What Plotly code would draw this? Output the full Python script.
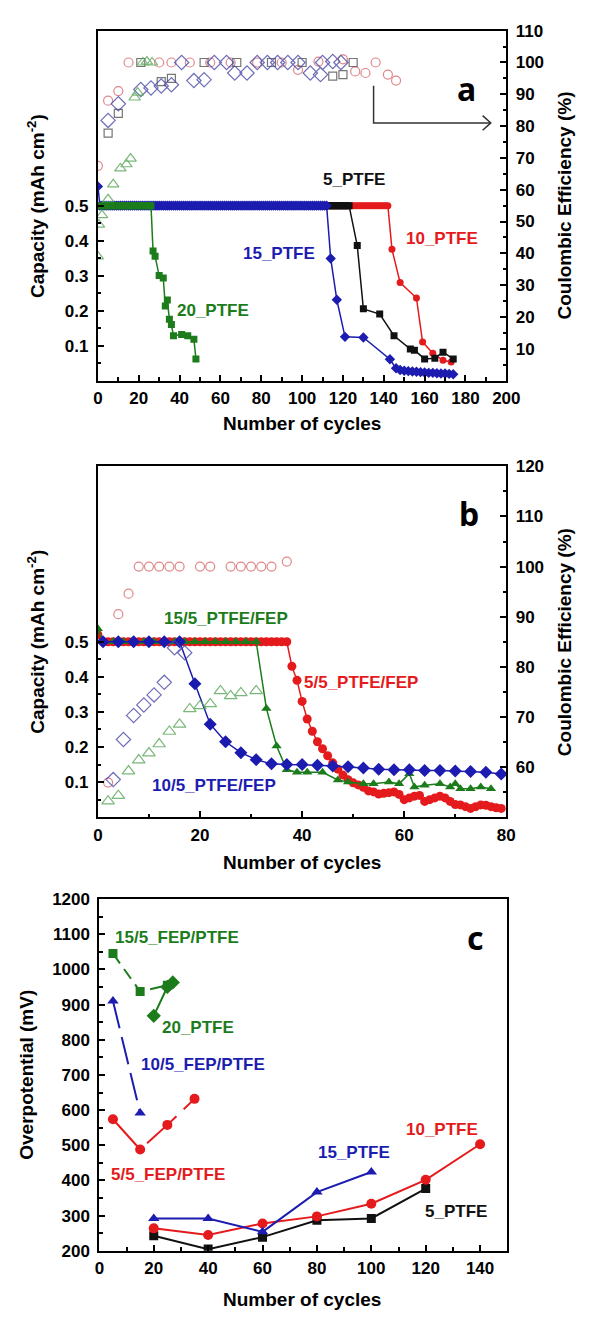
import plotly.graph_objects as go

FONT = "Liberation Sans, Arial, sans-serif"
RED, BLUE, GREEN, BLACK = "#e41a1c", "#1c1cb0", "#1c7c1c", "#111111"
RED_CE, BLUE_CE, GREEN_CE, GRAY_CE = "#d86a6c", "#4a4aa8", "#5aa65a", "#555555"

# ---------------- panel a : PTFE separators ----------------
# capacity (mAh cm-2)
a_20_cyc = list(range(0, 27)) + [27, 28, 30, 32, 33, 34, 35, 36, 37, 41, 44, 47, 48]
a_20_cap = [0.50] * 27 + [0.37, 0.355, 0.30, 0.293, 0.213, 0.23, 0.175, 0.16, 0.128,
                          0.132, 0.128, 0.118, 0.062]

a_15_cyc = list(range(0, 113)) + [114, 117, 121, 130, 143] + list(range(146, 176, 2))
a_15_cap = [0.555] + [0.50] * 112 + [0.349, 0.231, 0.125, 0.123, 0.061] + \
    [0.035, 0.03, 0.028, 0.027, 0.026, 0.025, 0.024, 0.023, 0.022, 0.022,
     0.021, 0.02, 0.02, 0.019, 0.018]

a_5_cyc = list(range(0, 124)) + [127, 130, 138, 145, 153, 155, 160, 165, 169, 174]
a_5_cap = [0.50] * 124 + [0.386, 0.205, 0.19, 0.128, 0.09, 0.087, 0.062, 0.064, 0.081, 0.062]

a_10_cyc = list(range(0, 143)) + [144, 148, 156, 159, 164, 169, 173]
a_10_cap = [0.50] * 143 + [0.375, 0.28, 0.236, 0.11, 0.078, 0.058, 0.053]

# coulombic efficiency (%)
a_10_ce_cyc = [0, 5, 10, 15, 30, 36, 45, 55, 65, 78, 90, 98, 108, 120, 126, 131, 136, 142, 146]
a_10_ce = [67.5, 88, 91, 100, 100, 100, 100, 100, 100, 100, 100, 97.7, 100.3, 101, 97.2,
           96.7, 100, 96.2, 94.3]
a_5_ce_cyc = [5, 10, 21, 31, 36, 52, 68, 85, 100, 115, 120, 125]
a_5_ce = [77.8, 84, 100, 94, 95, 100, 100, 100, 100, 95.7, 96.2, 100]
a_15_ce_cyc = [5, 10, 21, 26, 31, 36, 41, 47, 52, 57, 63, 67, 73, 78, 83, 88, 93, 98, 104,
               109, 110, 115, 119]
a_15_ce = [81.8, 87, 91.5, 92, 92.6, 93, 100, 94.3, 94.6, 100, 100, 96.7, 96.7, 100, 100,
           100, 100, 100, 96.7, 96.2, 100, 100.3, 100]
a_20_ce_cyc = [0, 0.5, 2, 5, 7.5, 11, 14, 16, 18, 19.5, 22, 24, 26.5]
a_20_ce = [39, 49, 52, 57, 61.7, 66.7, 68, 69.8, 89, 90.5, 100, 100.3, 100]

# ---------------- panel b : PTFE/FEP separators ----------------
b_55_cyc = list(range(0, 80))
b_55_cap = [0.52] + [0.50] * 37 + [
    0.43, 0.39, 0.33, 0.28, 0.245, 0.215, 0.195, 0.175, 0.155, 0.137, 0.12, 0.107,
    0.098, 0.092, 0.085, 0.075, 0.072, 0.066, 0.068, 0.07, 0.072, 0.065, 0.05, 0.055,
    0.06, 0.062, 0.045, 0.05, 0.055, 0.06, 0.055, 0.045, 0.036, 0.035, 0.03, 0.025,
    0.03, 0.035, 0.034, 0.03, 0.027, 0.025]
b_155_cyc = [0] + list(range(1, 32, 2)) + [33, 35, 37, 39, 41, 44, 47, 49, 52, 54, 57, 59,
                                           61, 62, 64, 67, 69, 70, 71, 73, 75, 77]
b_155_cap = [0.537] + [0.50] * 16 + [0.31, 0.203, 0.135, 0.128, 0.128, 0.128, 0.106, 0.10,
                                     0.095, 0.095, 0.10, 0.095, 0.124, 0.086, 0.091, 0.095,
                                     0.086, 0.095, 0.081, 0.081, 0.086, 0.081]
b_105_cyc = list(range(1, 80, 3))
b_105_cap = [0.50] * 6 + [0.38, 0.265, 0.215, 0.184, 0.164, 0.152, 0.15, 0.15, 0.148, 0.146,
                          0.144, 0.14, 0.137, 0.135, 0.135, 0.133, 0.133, 0.132, 0.13, 0.128,
                          0.123]

b_55_ce_cyc = [2, 4, 6, 8, 10, 12, 14, 16, 20, 22, 26, 28, 30, 32, 34, 37]
b_55_ce = [56.9, 90.5, 94.6, 100, 100, 100, 100, 100, 100, 100, 100, 100, 100, 100, 100, 101]
b_105_ce_cyc = [3, 5, 7, 9, 11, 13, 15, 17]
b_105_ce = [57.5, 65.5, 70.3, 72.4, 74.4, 76.9, 83.8, 82.8]
b_155_ce_cyc = [2, 4, 6, 8, 10, 12, 14, 16, 18, 20, 22, 24, 26, 28, 31]
b_155_ce = [53.2, 54.3, 59.2, 61.4, 62.8, 64.6, 67.1, 68.5, 71.6, 72.2, 72.6, 75.2, 74.2,
            74.8, 75.2]

# ---------------- panel c : overpotential (mV) ----------------
c_155_cyc = [5, 15, 25]
c_155_mv = [1045, 937, 955]
c_105_cyc = [5, 15]
c_105_mv = [910, 592]
c_55_cyc = [5, 15, 25, 35]
c_55_mv = [574, 488, 558, 632]
c_20_cyc = [20, 25, 27]
c_20_mv = [868, 950, 963]
c_15_cyc = [20, 40, 60, 80, 100]
c_15_mv = [292, 292, 254, 367, 424]
c_10_cyc = [20, 40, 60, 80, 100, 120, 140]
c_10_mv = [264, 245, 278, 298, 334, 402, 503]
c_5_cyc = [20, 40, 60, 80, 100, 120]
c_5_mv = [243, 205, 239, 287, 292, 377]

fig = go.Figure()


def ce(x, y, sym, col, xa, ya, size=9):
    fig.add_trace(go.Scatter(x=x, y=y, mode="markers", xaxis=xa, yaxis=ya,
                             marker=dict(symbol=sym, size=size, color=col,
                                         line=dict(width=1.2, color=col)),
                             opacity=0.8, showlegend=False, hoverinfo="skip"))


def cap(x, y, sym, col, xa, ya, size=7, dash="solid", lw=1.5):
    fig.add_trace(go.Scatter(x=x, y=y, mode="lines+markers", xaxis=xa, yaxis=ya,
                             line=dict(color=col, width=lw, dash=dash),
                             marker=dict(symbol=sym, size=size, color=col,
                                         line=dict(width=0)),
                             showlegend=False, hoverinfo="skip"))


# panel a
ce(a_10_ce_cyc, a_10_ce, "circle-open", RED_CE, "x", "y2")
ce(a_5_ce_cyc, a_5_ce, "square-open", GRAY_CE, "x", "y2", 8)
ce(a_15_ce_cyc, a_15_ce, "diamond-open", BLUE_CE, "x", "y2", 11)
ce(a_20_ce_cyc, a_20_ce, "triangle-up-open", GREEN_CE, "x", "y2", 10)
cap(a_10_cyc, a_10_cap, "circle", RED, "x", "y")
cap(a_5_cyc, a_5_cap, "square", BLACK, "x", "y")
cap(a_15_cyc, a_15_cap, "diamond", BLUE, "x", "y", 8)
cap(a_20_cyc, a_20_cap, "square", GREEN, "x", "y")

# panel b
ce(b_55_ce_cyc, b_55_ce, "circle-open", RED_CE, "x2", "y4")
ce(b_105_ce_cyc, b_105_ce, "diamond-open", BLUE_CE, "x2", "y4", 11)
ce(b_155_ce_cyc, b_155_ce, "triangle-up-open", GREEN_CE, "x2", "y4", 11)
cap(b_55_cyc, b_55_cap, "circle", RED, "x2", "y3", 9)
cap(b_155_cyc, b_155_cap, "triangle-up", GREEN, "x2", "y3", 9)
cap(b_105_cyc, b_105_cap, "diamond", BLUE, "x2", "y3", 10)

# panel c
cap(c_155_cyc, c_155_mv, "square", GREEN, "x3", "y5", 9, "12px,7px", 2)
cap(c_105_cyc, c_105_mv, "triangle-up", BLUE, "x3", "y5", 10, "28px,9px", 2)
cap(c_55_cyc, c_55_mv, "circle", RED, "x3", "y5", 10, "40px,10px", 2)
cap(c_20_cyc, c_20_mv, "diamond", GREEN, "x3", "y5", 11, "solid", 2)
cap(c_5_cyc, c_5_mv, "square", BLACK, "x3", "y5", 9, "solid", 2)
cap(c_10_cyc, c_10_mv, "circle", RED, "x3", "y5", 10, "solid", 2)
cap(c_15_cyc, c_15_mv, "triangle-up", BLUE, "x3", "y5", 10, "solid", 2)

W, H = 590, 1320
XA = [96 / W, 518 / W]
XC = [97.5 / W, 519 / W]


def ydom(top, bottom):
    return [1 - bottom / H, 1 - top / H]


tickfont = dict(family=FONT, size=17, color="black", weight="bold")
common = dict(showline=True, linecolor="black", linewidth=2, ticks="inside", ticklen=6,
              tickwidth=1.5, tickcolor="black", showgrid=False, zeroline=False,
              tickfont=tickfont)
xcommon = dict(common, ticklabelstandoff=1)
ycommon = dict(common, ticklabelstandoff=4)


def minor(**kw):
    d = dict(ticks="inside", ticklen=3.5, tickwidth=1.5, tickcolor="black", showgrid=False)
    d.update(kw)
    return d


cap_ticks = [0.1, 0.2, 0.3, 0.4, 0.5]
cap_minor = [0.05, 0.15, 0.25, 0.35, 0.45]

fig.update_layout(
    width=W, height=H, margin=dict(l=0, r=0, t=0, b=0),
    paper_bgcolor="white", plot_bgcolor="white",
    xaxis=dict(domain=XA, anchor="y", range=[0, 200], tickvals=list(range(0, 201, 20)),
               minor=minor(dtick=10), mirror=True, **xcommon),
    yaxis=dict(domain=ydom(22, 377), anchor="x", range=[0, 1.0], tickvals=cap_ticks,
               ticktext=["0.1", "0.2", "0.3", "0.4", "0.5"],
               minor=minor(tickvals=cap_minor), **ycommon),
    yaxis2=dict(anchor="x", overlaying="y", side="right", range=[0, 110],
                tickvals=list(range(10, 111, 10)), minor=minor(dtick=5), **ycommon),
    xaxis2=dict(domain=XA, anchor="y3", range=[0, 80], tickvals=list(range(0, 81, 20)),
                minor=minor(dtick=10), mirror=True, **xcommon),
    yaxis3=dict(domain=ydom(464, 820), anchor="x2", range=[0, 1.0], tickvals=cap_ticks,
                ticktext=["0.1", "0.2", "0.3", "0.4", "0.5"],
                minor=minor(tickvals=cap_minor), **ycommon),
    yaxis4=dict(anchor="x2", overlaying="y3", side="right", range=[50, 120],
                tickvals=list(range(60, 121, 10)), minor=minor(dtick=5), **ycommon),
    xaxis3=dict(domain=XC, anchor="y5", range=[0, 150], tickvals=list(range(0, 141, 20)),
                minor=minor(dtick=10), mirror=True, **xcommon),
    yaxis5=dict(domain=ydom(903, 1260), anchor="x3", range=[200, 1200],
                tickvals=list(range(200, 1201, 100)), minor=minor(dtick=50), mirror=True,
                **ycommon),
)

ann = []


def label(text, x, y, col, xref, yref, size=17, family=FONT):
    ann.append(dict(text=text, x=x, y=y, xref=xref, yref=yref, showarrow=False,
                    font=dict(family=family, size=size, color=col, weight="bold"),
                    xanchor="center", yanchor="middle"))


def title(text, px, py, angle=0):
    ann.append(dict(text=text, x=px / W, y=1 - py / H, xref="paper", yref="paper",
                    showarrow=False, textangle=angle, xanchor="center", yanchor="middle",
                    font=dict(family=FONT, size=19, color="black", weight="bold")))


# series names
label("5_PTFE", 125.6, 0.576, BLACK, "x", "y")
label("15_PTFE", 88.6, 0.363, BLUE, "x", "y")
label("10_PTFE", 168.7, 0.406, RED, "x", "y")
label("20_PTFE", 56.4, 0.199, GREEN, "x", "y")
label("15/5_PTFE/FEP", 25.0, 0.566, GREEN, "x2", "y3")
label("5/5_PTFE/FEP", 51.6, 0.383, RED, "x2", "y3")
label("10/5_PTFE/FEP", 22.7, 0.089, BLUE, "x2", "y3")
label("15/5_FEP/PTFE", 28.5, 1091, GREEN, "x3", "y5")
label("20_PTFE", 36.3, 836, GREEN, "x3", "y5")
label("10/5_FEP/PTFE", 38.1, 729, BLUE, "x3", "y5")
label("5/5_FEP/PTFE", 25.3, 416, RED, "x3", "y5")
label("15_PTFE", 93.6, 480, BLUE, "x3", "y5")
label("10_PTFE", 126, 545, RED, "x3", "y5")
label("5_PTFE", 131, 312, BLACK, "x3", "y5")

# panel letters
label("a", 180.6, 0.834, "black", "x", "y", 32, "Noto Sans, sans-serif")
label("b", 72.6, 0.866, "black", "x2", "y3", 32, "Noto Sans, sans-serif")
label("c", 138.4, 1091, "black", "x3", "y5", 32, "Noto Sans, sans-serif")

# axis titles
title("Number of cycles", 307, 421)
title("Number of cycles", 307, 866)
title("Number of cycles", 307, 1309)
title("Capacity (mAh cm<sup>-2</sup>)", 32, 200, -90)
title("Capacity (mAh cm<sup>-2</sup>)", 32, 642, -90)
title("Overpotential (mV)", 22, 1081, -90)
title("Coulombic Efficiency (%)", 578, 199, -90)
title("Coulombic Efficiency (%)", 578, 642, -90)

fig.update_layout(annotations=ann)

# bent arrow pointing the efficiency points to the right-hand axis
fig.add_shape(type="path", xref="x", yref="y2", path="M 135,92.7 L 135,81 L 192.4,81",
              line=dict(color="#333333", width=1.5))
fig.add_shape(type="path", xref="x", yref="y2", path="M 188.4,83.3 L 192.4,81 L 188.4,78.7",
              line=dict(color="#333333", width=1.5))

fig.write_html("out.html")
